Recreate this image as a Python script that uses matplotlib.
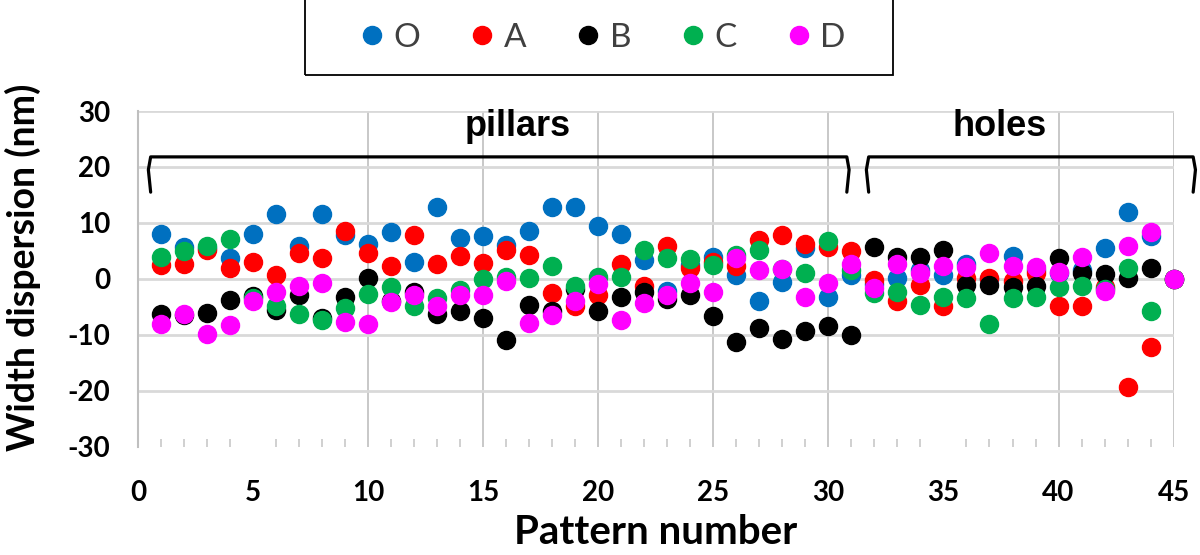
"""
Width dispersion per pattern for the O / A / B / C / D conditions (pillars and holes).
"""

import numpy as np
import matplotlib
matplotlib.use("Agg")
import matplotlib.pyplot as plt
from matplotlib.patches import Rectangle
from matplotlib.ticker import MultipleLocator

# pattern numbers 1..45
patterns = list(range(1, 46))

# width dispersion (nm)
disp_O = [8.0, 5.7, 5.5, 3.7, 8.0, 11.6, 5.8, 11.6, 7.9, 6.2,
          8.3, 3.1, 12.8, 7.3, 7.7, 6.1, 8.6, 12.8, 12.8, 9.5,
          8.1, 3.4, -2.1, 2.5, 4.0, 0.7, -4.0, -0.5, 5.5, -3.2,
          0.7, -1.0, 0.1, 1.5, 0.7, 2.7, 0.0, 4.1, 1.5, 1.0,
          1.6, 5.5, 11.9, 7.7, 0.0]
disp_A = [2.5, 2.7, 5.1, 1.9, 3.1, 0.7, 4.7, 3.8, 8.6, 4.7,
          2.3, 7.9, 2.6, 4.1, 2.9, 5.2, 4.2, -2.6, -4.9, -2.9,
          2.7, -1.2, 5.9, 1.9, 3.1, 2.3, 7.0, 7.9, 6.2, 5.7,
          4.9, -0.2, -4.0, -1.1, -4.9, 0.1, 0.1, -0.3, 1.0, -4.8,
          -4.9, -1.5, -19.4, -12.1, 0.0]
disp_B = [-6.2, -6.5, -6.1, -3.7, -3.0, -5.5, -2.9, -7.0, -3.3, 0.1,
          -4.0, -2.4, -6.2, -5.8, -7.0, -10.9, -4.6, -5.8, -1.8, -5.8,
          -3.3, -2.3, -3.6, -2.9, -6.6, -11.2, -8.8, -10.8, -9.4, -8.5,
          -10.0, 5.7, 4.0, 4.0, 5.2, -1.1, -1.1, -1.5, -1.2, 3.7,
          1.1, 0.9, 0.1, 1.9, 0.0]
disp_C = [4.0, 4.9, 5.9, 7.1, -3.5, -4.8, -6.2, -7.4, -5.2, -2.7,
          -1.5, -4.9, -3.5, -2.0, -0.1, 0.3, 0.1, 2.3, -1.2, 0.4,
          0.4, 5.2, 3.7, 3.5, 2.5, 4.3, 5.2, 1.7, 1.0, 6.8,
          1.6, -2.6, -2.4, -4.6, -3.3, -3.5, -8.0, -3.5, -3.3, -1.4,
          -1.2, -1.8, 1.9, -5.7, 0.0]
disp_D = [-8.0, -6.3, -9.8, -8.2, -4.0, -2.3, -1.2, -0.8, -7.7, -8.0,
          -4.2, -2.9, -4.9, -2.9, -2.9, -0.3, -7.9, -6.4, -4.0, -0.9,
          -7.3, -4.3, -2.9, -0.8, -2.4, 3.7, 1.6, 1.7, -3.2, -0.8,
          2.7, -1.7, 2.7, 1.1, 2.3, 2.1, 4.6, 2.3, 2.2, 1.3,
          3.9, -2.1, 5.9, 8.45, 0.0]

series_names = ["O", "A", "B", "C", "D"]
series_values = [disp_O, disp_A, disp_B, disp_C, disp_D]
COLORS = ["#0070C0", "#FF0000", "#000000", "#00B050", "#FF00FF"]

# pillar / hole groups: (start, end, label, label x)
groups = [(0.45, 30.9, "pillars", 16.5), (31.65, 45.95, "holes", 37.45)]

plt.rcParams["font.family"] = ["Lato", "DejaVu Sans"]
plt.rcParams["axes.unicode_minus"] = False

W, H = 1200, 555
fig = plt.figure(figsize=(W / 100, H / 100), dpi=100)
ax = fig.add_axes([0.115, 0.195, 0.863, 0.605])

for name, vals, col in zip(series_names, series_values, COLORS):
    ax.plot(patterns, vals, linestyle="none", marker="o", markersize=13,
            color=col, label=name, clip_on=False, zorder=3)

ax.set_xlim(0, 45)
ax.set_ylim(-30, 30)
ax.xaxis.set_major_locator(MultipleLocator(5))
ax.xaxis.set_minor_locator(MultipleLocator(1))
ax.yaxis.set_major_locator(MultipleLocator(10))

ax.grid(True, axis="y", color="#d9d9d9", linewidth=2)
ax.grid(True, axis="x", color="#bfbfbf", linewidth=1.2)
# some lines are not drawn in the original
for gl, t in zip(ax.get_xgridlines(), ax.get_xticks()):
    if t in (0, 5, 35):
        gl.set_visible(False)
for gl, t in zip(ax.get_ygridlines(), ax.get_yticks()):
    if t == -30:
        gl.set_visible(False)
ax.set_axisbelow(True)

for s in ["top", "right", "bottom"]:
    ax.spines[s].set_visible(False)
ax.spines["left"].set_color("#bfbfbf")
ax.spines["left"].set_linewidth(1.5)

ax.tick_params(axis="both", which="major", length=0, labelsize=20)
ax.tick_params(axis="x", which="major", pad=24)
ax.tick_params(axis="y", which="major", pad=20)
ax.tick_params(axis="x", which="minor", direction="in", length=6,
               color="#c8c8c8", width=1.2)
for lab in ax.get_xticklabels() + ax.get_yticklabels():
    lab.set_fontweight("bold")

ax.set_xlabel("Pattern number", fontsize=29, fontweight="bold")
ax.set_ylabel("Width dispersion (nm)", fontsize=27, fontweight="bold")
ax.xaxis.set_label_coords(0.5, -0.2)
ax.yaxis.set_label_coords(-0.094, 0.533)

# brackets with group labels
for x0, x1, txt, xt in groups:
    ax.plot([x0 + 0.1, x0, x0 + 0.1, x1 - 0.1, x1, x1 - 0.1],
            [15.5, 19.5, 21.8, 21.8, 19.5, 15.5],
            color="black", linewidth=2.3, clip_on=False, solid_capstyle="round")
    ax.text(xt, 27.2, txt, ha="center", va="center", fontsize=26,
            fontweight="bold", family=["Liberation Sans", "DejaVu Sans"])

# legend box at the top (frame drawn separately to match its size)
fig.patches.append(Rectangle((305 / W, 1 - 75 / H), 588 / W, 75 / H + 0.01,
                             transform=fig.transFigure, fill=False,
                             edgecolor="black", linewidth=1.3))
leg = fig.legend(loc="center", ncol=5, bbox_to_anchor=(604 / W, 1 - 38 / H),
                 fontsize=24, markerscale=1.0, handlelength=0.6,
                 handletextpad=0.35, columnspacing=1.55, frameon=False)
for t in leg.get_texts():
    t.set_color("#404040")

fig.savefig("out.png", dpi=100)
